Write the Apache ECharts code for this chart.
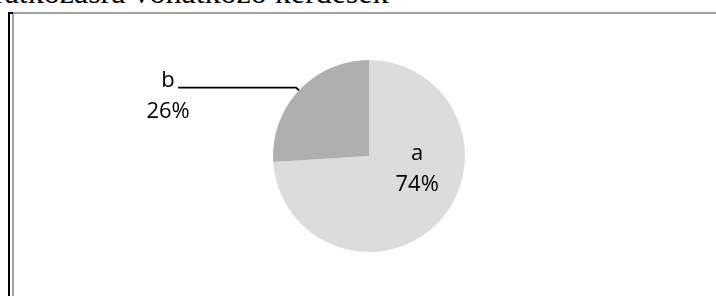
<!DOCTYPE html>
<html>
<head>
<meta charset="utf-8">
<script src="https://cdn.jsdelivr.net/npm/echarts@6/dist/echarts.min.js"></script>
<style>
    html, body { margin: 0; padding: 0; background: #fff; }
    .page { position: relative; width: 716px; height: 296px; overflow: hidden; }
    .caption {
        position: absolute; left: -6px; top: -26px; white-space: nowrap;
        font-family: "Liberation Serif", "DejaVu Serif", serif; font-size: 32px; color: #000;
    }
    .frame_black { position: absolute; left: 8px; top: 12px; width: 2px; height: 300px; background: #000; }
    .frame_black_top { position: absolute; left: 8px; top: 12px; width: 5px; height: 2px; background: #000; }
    .frame_gray_left { position: absolute; left: 12px; top: 12px; width: 2px; height: 300px; background: #a0a0a0; }
    .frame_gray_top { position: absolute; left: 12px; top: 12px; width: 710px; height: 2px; background: #a0a0a0; }
    #chart { position: absolute; left: 0; top: 0; width: 716px; height: 296px; }
</style>
</head>
<body>
<div class="page">
    <div class="caption">ratkozásra vonatkozó kérdések</div>
    <div class="frame_black"></div>
    <div class="frame_gray_left"></div>
    <div class="frame_gray_top"></div>
    <div class="frame_black_top"></div>
    <div id="chart"></div>
</div>
<script>
    // slices, clockwise from 12 o'clock
    const categories = ['a', 'b'];
    const shares = [74, 26];
    const sliceColors = ['#dcdcdc', '#afafaf'];

    const labelFont = '"Open Sans", "Liberation Sans", sans-serif';

    let myChart = echarts.init(document.getElementById('chart'), null, { renderer: 'canvas' });

    const pieData = categories.map((name, i) => {
        let item = {
            name: name,
            value: shares[i],
            itemStyle: { color: sliceColors[i] }
        };
        if (i === 0) {
            item.label = {
                position: 'inside',
                offset: [11, -22]
            };
        } else {
            item.label = {
                position: 'outside',
                distanceToLabelLine: -14,
                padding: [18, 0, 0, 0]
            };
            item.labelLine = {
                show: true,
                length: 4,
                length2: 118,
                lineStyle: { color: '#000', width: 1.8 }
            };
        }
        return item;
    });

    myChart.setOption({
        animation: false,
        series: [
            {
                type: 'pie',
                center: [369, 156],
                radius: 96,
                startAngle: 90,
                clockwise: true,
                avoidLabelOverlap: false,
                silent: true,
                itemStyle: { borderWidth: 0 },
                label: {
                    show: true,
                    formatter: '{t|{b}}\n{t|{d}%}',
                    rich: {
                        t: {
                            width: 48,
                            align: 'center',
                            fontFamily: labelFont,
                            fontSize: 22,
                            lineHeight: 31,
                            color: '#000'
                        }
                    }
                },
                labelLine: { show: false },
                emphasis: { disabled: true },
                data: pieData
            }
        ]
    });

    window.addEventListener('resize', () => {
        myChart.resize();
    });
</script>
</body>
</html>
